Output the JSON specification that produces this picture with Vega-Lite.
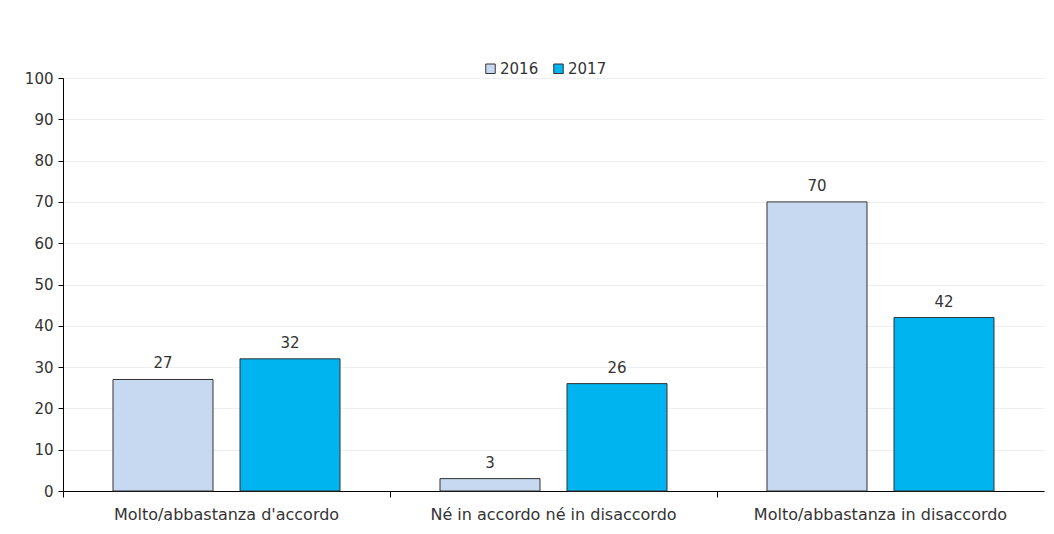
{
  "$schema": "https://vega.github.io/schema/vega-lite/v6.json",
  "width": 981,
  "height": 413,
  "autosize": {"type": "none"},
  "padding": {"left": 63, "top": 78, "right": 10, "bottom": 43},
  "background": "white",
  "config": {
    "font": "DejaVu Sans",
    "view": {"stroke": null},
    "axis": {"labelFont": "DejaVu Sans", "labelColor": "#333333", "labelFontSize": 15}
  },
  "data": {
    "values": [
      {"cat": "Molto/abbastanza d'accordo", "year": "2016", "value": 27},
      {"cat": "Molto/abbastanza d'accordo", "year": "2017", "value": 32},
      {"cat": "Né in accordo né in disaccordo", "year": "2016", "value": 3},
      {"cat": "Né in accordo né in disaccordo", "year": "2017", "value": 26},
      {"cat": "Molto/abbastanza in disaccordo", "year": "2016", "value": 70},
      {"cat": "Molto/abbastanza in disaccordo", "year": "2017", "value": 42}
    ]
  },
  "encoding": {
    "x": {
      "field": "cat", "type": "nominal",
      "sort": ["Molto/abbastanza d'accordo", "Né in accordo né in disaccordo", "Molto/abbastanza in disaccordo"],
      "scale": {"paddingInner": 0, "paddingOuter": 0}
    },
    "xOffset": {
      "field": "year", "type": "nominal",
      "scale": {"paddingInner": 0.2126, "paddingOuter": 0.3937}
    },
    "y": {
      "field": "value", "type": "quantitative",
      "scale": {"domain": [0, 100]},
      "axis": {
        "title": null, "values": [0,10,20,30,40,50,60,70,80,90,100],
        "grid": true, "gridColor": "#efefef", "gridWidth": 1,
        "domainColor": "#000000", "tickColor": "#000000", "tickSize": 5,
        "labelPadding": 5
      }
    }
  },
  "layer": [
    {
      "mark": {"type": "bar", "stroke": "#333333", "strokeWidth": 1},
      "encoding": {
        "x": {
          "field": "cat", "type": "nominal",
          "sort": ["Molto/abbastanza d'accordo", "Né in accordo né in disaccordo", "Molto/abbastanza in disaccordo"],
          "axis": {
            "title": null, "labelAngle": 0, "ticks": false, "domainColor": "#000000",
            "labelPadding": 15, "labelLimit": 0, "labelFontSize": 16, "orient": "bottom"
          }
        },
        "color": {
          "field": "year", "type": "nominal",
          "scale": {"domain": ["2016", "2017"], "range": ["#c6d9f0", "#00b5ef"]},
          "legend": {
            "title": null, "orient": "none", "legendX": 420, "legendY": -17,
            "direction": "horizontal", "symbolType": "square", "symbolSize": 90,
            "symbolStrokeColor": "#333333", "symbolStrokeWidth": 1,
            "labelFontSize": 15, "labelColor": "#333333", "labelFont": "DejaVu Sans",
            "columnPadding": 12, "labelOffset": 2
          }
        }
      }
    },
    {
      "mark": {"type": "text", "dy": -8, "baseline": "bottom", "fontSize": 15, "color": "#333333", "font": "DejaVu Sans"},
      "encoding": {
        "x": {
          "field": "cat", "type": "nominal",
          "sort": ["Molto/abbastanza d'accordo", "Né in accordo né in disaccordo", "Molto/abbastanza in disaccordo"],
          "axis": {
            "title": null, "labels": false, "ticks": true, "tickSize": 6, "tickColor": "#000000",
            "bandPosition": 0, "domain": false, "grid": false, "orient": "bottom"
          }
        },
        "text": {"field": "value", "type": "quantitative"}
      }
    }
  ],
  "resolve": {"axis": {"x": "independent"}}
}
